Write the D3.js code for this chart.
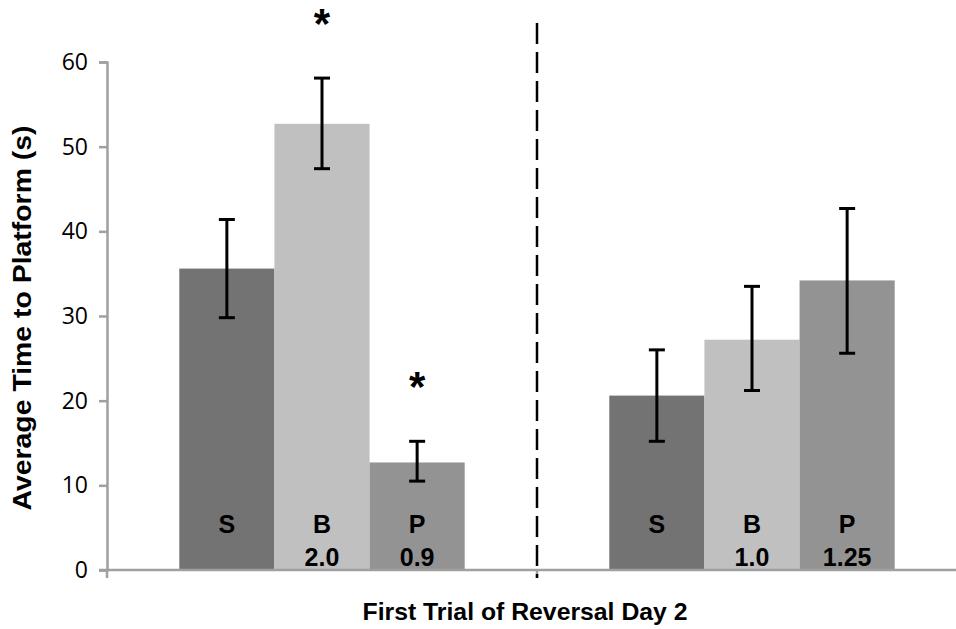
<!DOCTYPE html>
<html>
<head>
<meta charset="utf-8">
<script src="https://cdn.jsdelivr.net/npm/d3@7"></script>
<style>
  body { margin: 0; background: #fff; }
  svg { display: block; }
</style>
</head>
<body>
<div id="chart"></div>
<script>
// data
const sessions = ["A", "B"];
const treatments = ["S", "B", "P"];
const treatmentDoses = [["", "2.0", "0.9"], ["", "1.0", "1.25"]];
const means = [[35.6, 52.7, 12.7], [20.6, 27.2, 34.2]];
const errLow = [[29.8, 47.4, 10.5], [15.2, 21.2, 25.6]];
const errHigh = [[41.4, 58.1, 15.2], [26.0, 33.5, 42.7]];
const significant = [[false, true, true], [false, false, false]];
const yTicks = [0, 10, 20, 30, 40, 50, 60];
const barColors = ["#737373", "#c0c0c0", "#939393"];

const width = 956, height = 629;
const margin = { top: 62, left: 107, bottom: 59, right: 0 };
const boldFont = "'Liberation Sans', Arial, sans-serif";

const svg = d3.select("#chart").append("svg")
    .attr("width", width)
    .attr("height", height);

const y = d3.scaleLinear()
    .domain([0, 60])
    .range([height - margin.bottom, margin.top]);

const x0 = d3.scaleBand()
    .domain(sessions)
    .range([margin.left, margin.left + 860])
    .padding(0);

const x1 = d3.scaleBand()
    .domain(treatments)
    .range([0, x0.bandwidth()])
    .paddingInner(0)
    .paddingOuter(0.76);

const color = d3.scaleOrdinal().domain(treatments).range(barColors);

// flatten into marks
const rows = [];
sessions.forEach((s, i) => {
    treatments.forEach((t, j) => {
        rows.push({
            session: s, treat: t,
            mean: means[i][j], lo: errLow[i][j], hi: errHigh[i][j],
            dose: treatmentDoses[i][j], sig: significant[i][j]
        });
    });
});

// bars
svg.append("g").selectAll("rect")
    .data(rows)
    .enter()
    .append("rect")
    .attr("x", d => x0(d.session) + x1(d.treat))
    .attr("y", d => y(d.mean))
    .attr("width", x1.bandwidth())
    .attr("height", d => y(0) - y(d.mean))
    .attr("fill", d => color(d.treat));

// axes
const axisColor = "#a0a0a0";
const yAxis = svg.append("g")
    .attr("transform", `translate(${margin.left},0)`)
    .call(d3.axisLeft(y).tickValues(yTicks).tickSize(8).tickPadding(11));
yAxis.select(".domain").attr("stroke", axisColor).attr("stroke-width", 2.5);
yAxis.selectAll(".tick line").attr("stroke", axisColor).attr("stroke-width", 2.5);
yAxis.selectAll(".tick text")
    .attr("fill", "#000")
    .attr("font-family", "'Open Sans', 'Liberation Sans', sans-serif")
    .attr("font-size", "23px");

const xAxisG = svg.append("g");
xAxisG.append("line")
    .attr("x1", margin.left - 8).attr("x2", width)
    .attr("y1", y(0)).attr("y2", y(0))
    .attr("stroke", axisColor).attr("stroke-width", 2.5);
xAxisG.selectAll("line.xt")
    .data(sessions)
    .enter()
    .append("line")
    .attr("class", "xt")
    .attr("x1", d => x0(d)).attr("x2", d => x0(d))
    .attr("y1", y(0)).attr("y2", y(0) + 8)
    .attr("stroke", axisColor).attr("stroke-width", 2.5);

// error bars
const eb = svg.append("g").attr("stroke", "#000").attr("stroke-width", 3);
const cx = d => x0(d.session) + x1(d.treat) + x1.bandwidth() / 2;
eb.selectAll("line.v").data(rows).enter().append("line")
    .attr("x1", cx).attr("x2", cx)
    .attr("y1", d => y(d.lo)).attr("y2", d => y(d.hi));
eb.selectAll("line.t").data(rows).enter().append("line")
    .attr("x1", d => cx(d) - 8).attr("x2", d => cx(d) + 8)
    .attr("y1", d => y(d.hi)).attr("y2", d => y(d.hi));
eb.selectAll("line.b").data(rows).enter().append("line")
    .attr("x1", d => cx(d) - 8).attr("x2", d => cx(d) + 8)
    .attr("y1", d => y(d.lo)).attr("y2", d => y(d.lo));

// significance asterisks
svg.append("g").selectAll("text")
    .data(rows.filter(d => d.sig))
    .enter()
    .append("text")
    .attr("x", cx)
    .attr("y", d => y(d.hi) - 40)
    .attr("text-anchor", "middle")
    .attr("font-family", boldFont)
    .attr("font-weight", "700")
    .attr("font-size", "42px")
    .text("*");

// labels inside bars
const lbl = svg.append("g")
    .attr("font-family", boldFont)
    .attr("font-weight", "700")
    .attr("font-size", "25px")
    .attr("text-anchor", "middle")
    .attr("fill", "#000");
lbl.selectAll("text.t").data(rows).enter().append("text")
    .attr("x", cx)
    .attr("y", y(0) - 37)
    .text(d => d.treat);
lbl.selectAll("text.d").data(rows).enter().append("text")
    .attr("x", cx)
    .attr("y", y(0) - 4)
    .text(d => d.dose);

// dashed separator
svg.append("line")
    .attr("x1", x0("B")).attr("x2", x0("B"))
    .attr("y1", 23).attr("y2", y(0) + 8)
    .attr("stroke", "#000")
    .attr("stroke-width", 2.5)
    .attr("stroke-dasharray", "21,8");

// axis titles
svg.append("text")
    .attr("x", 525)
    .attr("y", 620)
    .attr("text-anchor", "middle")
    .attr("font-family", boldFont)
    .attr("font-weight", "700")
    .attr("font-size", "24px")
    .attr("textLength", 325)
    .attr("lengthAdjust", "spacingAndGlyphs")
    .text("First Trial of Reversal Day 2");

svg.append("text")
    .attr("transform", `translate(31, ${(y(0) + y(60)) / 2 + 2}) rotate(-90)`)
    .attr("text-anchor", "middle")
    .attr("font-family", boldFont)
    .attr("font-weight", "700")
    .attr("font-size", "25px")
    .attr("textLength", 385)
    .attr("lengthAdjust", "spacingAndGlyphs")
    .text("Average Time to Platform (s)");
</script>
</body>
</html>
